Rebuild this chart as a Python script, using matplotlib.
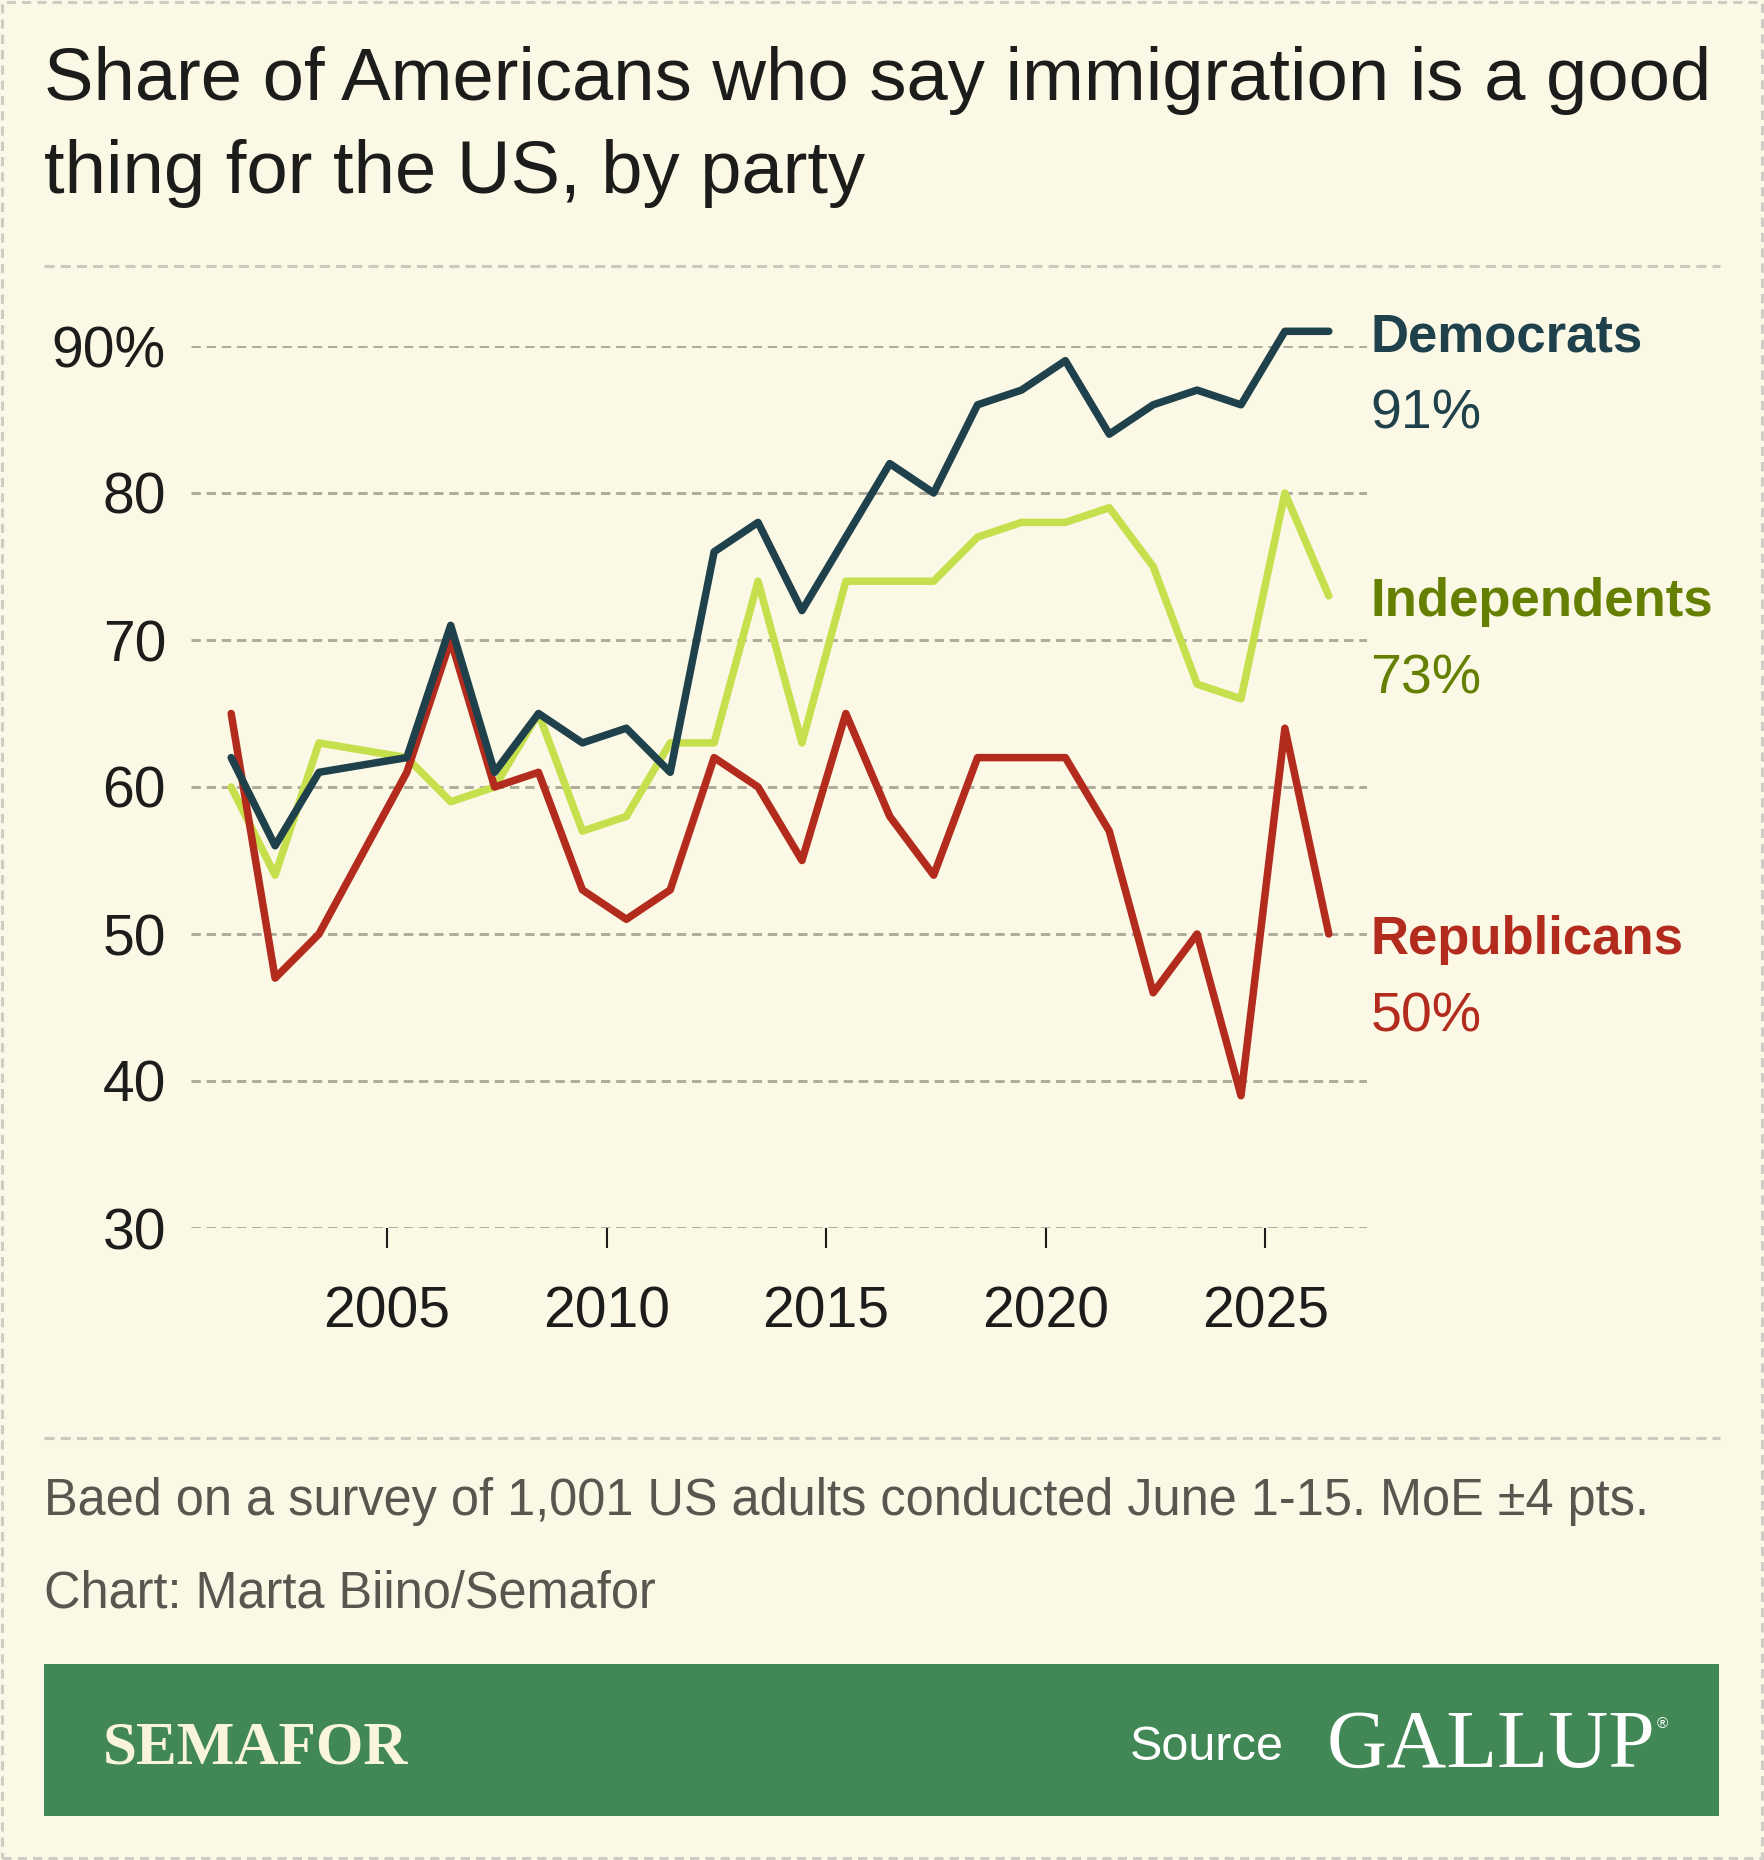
import matplotlib
matplotlib.use("Agg")
import matplotlib.pyplot as plt
from matplotlib.lines import Line2D
from matplotlib.patches import Rectangle

# values (June surveys), % saying immigration is a good thing
years = [2001, 2002, 2003, 2005, 2006, 2007, 2008, 2009, 2010, 2011, 2012, 2013,
         2014, 2015, 2016, 2017, 2018, 2019, 2020, 2021, 2022, 2023, 2024, 2025, 2026]
democrats = [62, 56, 61, 62, 71, 61, 65, 63, 64, 61, 76, 78,
             72, 77, 82, 80, 86, 87, 89, 84, 86, 87, 86, 91, 91]
independents = [60, 54, 63, 62, 59, 60, 65, 57, 58, 63, 63, 74,
                63, 74, 74, 74, 77, 78, 78, 79, 75, 67, 66, 80, 73]
republicans = [65, 47, 50, 61, 70, 60, 61, 53, 51, 53, 62, 60,
               55, 65, 58, 54, 62, 62, 62, 57, 46, 50, 39, 64, 50]
year_ticks = [2005, 2010, 2015, 2020, 2025]
pct_ticks = [30, 40, 50, 60, 70, 80, 90]
pct_labels = ["30", "40", "50", "60", "70", "80", "90%"]

title_lines = ["Share of Americans who say immigration is a good",
               "thing for the US, by party"]
note = "Baed on a survey of 1,001 US adults conducted June 1-15. MoE \u00b14 pts."
credit = "Chart: Marta Biino/Semafor"

bg = "#fbf8e6"
dem_c = "#1e414b"
ind_c = "#c6df4c"
ind_txt = "#658000"
rep_c = "#b22b1d"
grid_c = "#aeab9b"
ink = "#1c1c1a"

W, H = 1764, 1860
def fx(px):
    return px / W
def fy(py):
    return 1 - py / H

sans = ["Liberation Sans", "DejaVu Sans"]
narrow = ["Liberation Sans Narrow", "Liberation Sans", "DejaVu Sans"]
serif = ["Liberation Serif", "DejaVu Serif"]
plt.rcParams["font.family"] = sans

fig = plt.figure(figsize=(W / 100, H / 100), dpi=100, facecolor=bg)

# outer dashed frame
fig.add_artist(Rectangle((0.001, 0.001), 0.998, 0.998, transform=fig.transFigure,
                         fill=False, edgecolor="#cfcdc3", lw=2.2, ls=(0, (3, 2))))

# title
for i, line in enumerate(title_lines):
    fig.text(fx(44), fy(100 + 93 * i), line, fontsize=53.5, color=ink, va="baseline")

# dashed separators
for py in [266, 1438]:
    fig.add_artist(Line2D([fx(44), fx(1720)], [fy(py), fy(py)], transform=fig.transFigure,
                          color="#cdcabd", lw=2.2, ls=(0, (3.3, 2))))

ax = fig.add_axes([fx(191), fy(1228), fx(1367) - fx(191), fy(346) - fy(1228)])
ax.set_facecolor("none")
ax.set_xlim(2000.535, 2027.32)
ax.set_ylim(30, 90)
for s in ax.spines.values():
    s.set_visible(False)

for v in pct_ticks:
    ax.axhline(v, color=grid_c, lw=2.1, ls=(0, (3.2, 2.0)), zorder=0)

# points sit at mid-year
x = [y + 0.45 for y in years]
series = [("Independents", independents, ind_c, ind_txt),
          ("Republicans", republicans, rep_c, rep_c),
          ("Democrats", democrats, dem_c, dem_c)]
for name, vals, col, tcol in series:
    ax.plot(x, vals, color=col, lw=5.4, clip_on=False, solid_capstyle="round", zorder=3)
    ax.annotate(name, xy=(x[-1], vals[-1]), xytext=(30, -14.5), textcoords="offset points",
                fontsize=38, fontweight="bold", family=narrow, color=tcol,
                va="baseline", annotation_clip=False)
    ax.annotate(f"{vals[-1]}%", xy=(x[-1], vals[-1]), xytext=(30, -70), textcoords="offset points",
                fontsize=40, color=tcol, va="baseline", annotation_clip=False)

ax.set_yticks(pct_ticks)
ax.set_yticklabels(pct_labels)
ax.set_xticks(year_ticks)
ax.set_xticklabels([str(y) for y in year_ticks])
ax.tick_params(axis="y", length=0, pad=18, labelsize=41, labelcolor=ink)
ax.tick_params(axis="x", length=14.4, width=1.5, pad=27, labelsize=41, color=ink, labelcolor=ink)

# notes
fig.text(fx(44), fy(1515), note, fontsize=36.4, color="#57564f", va="baseline")
fig.text(fx(44), fy(1607), credit, fontsize=36.4, color="#57564f", va="baseline")

# green footer banner
fig.add_artist(Rectangle((fx(44), fy(1816)), fx(1719) - fx(44), fy(1664) - fy(1816),
                         transform=fig.transFigure, facecolor="#428856", edgecolor="none"))
fig.text(fx(103), fy(1763), "SEMAFOR", fontsize=44, fontweight="bold", family=serif,
         color="#f9f5dc", va="baseline")
fig.text(fx(1130), fy(1760), "Source", fontsize=35, color="white", va="baseline")
fig.text(fx(1327), fy(1767), "GALLUP", fontsize=60, family=serif, color="white", va="baseline")
fig.text(fx(1657), fy(1728), "\u00ae", fontsize=11, color="white", va="baseline")

fig.savefig("out.png", dpi=100, facecolor=bg)
